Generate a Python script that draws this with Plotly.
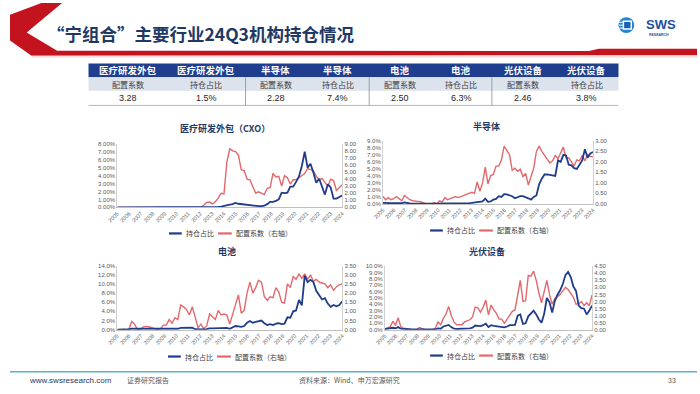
import plotly.graph_objects as go

W, H = 700, 394
def X(px): return px / W
def Y(py): return 1 - py / H

YEARS = [str(y) for y in range(2005, 2025)]
QUARTERS = [f"{y}Q{q}" for y in range(2005, 2025) for q in range(1, 5)][:79]

# ---- data, quarterly 2005Q1 .. 2024Q3 ----
CXO_HOLD = [0, 0, 0, 0,  0, 0, 0, 0,  0, 0, 0, 0,  0, 0, 0, 0,  0, 0, 0, 0,
            0, 0, 0, 0,  0, 0, 0, 0,  0, 0, 0, 0,  0, 0, 0, 0.05,
            0.1, 0.2, 0.3, 0.35,  0.4, 0.55, 0.45, 0.4,  0.4, 0.35, 0.3, 0.2,
            0.2, 0.15, 0.15, 0.2,  0.4, 0.7, 0.7, 0.8,  1.0, 1.85, 1.8, 1.85,
            2.6, 2.6, 3.2, 3.9,  5.2, 7.0, 5.0, 5.5,  4.4, 3.1, 3.6, 2.6,
            1.6, 2.9, 2.5, 1.1,  1.1, 1.3, 1.5]
CXO_COEF = [0, 0, 0, 0,  0, 0, 0, 0,  0, 0, 0, 0,  0, 0, 0, 0,  0, 0, 0, 0,
            0, 0, 0, 0,  0, 0, 0, 0,  0, 0, 0.3, 0.7,  0.75, 0.5, 0.8, 1.3,
            2.0, 1.9, 6.4, 8.3,  8.0, 7.9, 7.4, 5.3,  5.2, 4.0, 3.9, 2.8,
            2.0, 2.2, 2.0, 1.8,  2.7, 2.8, 4.8, 4.3,  4.4, 3.0, 4.5, 4.2,
            3.3, 3.9, 3.9, 4.2,  4.6, 4.8, 5.5, 5.3,  5.2, 4.4, 3.9, 4.1,
            3.6, 3.0, 4.0, 3.8,  2.4, 2.8, 3.2]

SEMI_HOLD = [0.15, 0.1, 0.1, 0.1,  0.12, 0.1, 0.12, 0.1,  0.2, 0.1, 0.08, 0.05,
             0.03, 0.02, 0.02, 0.02,  0.02, 0.02, 0.02, 0.02,  0.02, 0.03, 0.05, 0.05,
             0.05, 0.05, 0.05, 0.06,  0.06, 0.07, 0.08, 0.1,  0.12, 0.15, 0.2, 0.35,
             0.35, 0.35, 0.75, 0.3,  0.35, 0.6, 0.7, 1.1,  1.0, 1.4, 1.35, 1.2,
             1.1, 0.8, 1.0, 1.1,  1.1, 1.0, 0.8, 0.6,  1.0, 1.2, 2.8, 3.6,
             4.2, 4.2, 4.1, 4.0,  4.0, 6.2, 6.0, 7.0,  6.9, 5.6, 5.5, 5.1,
             5.0, 5.6, 6.2, 7.8,  6.6, 7.2, 7.4]
SEMI_COEF = [0.35, 0.2, 0.3, 0.2,  0.25, 0.35, 0.25, 0.15,  0.4, 0.3, 0.2, 0.15,
             0.12, 0.12, 0.1, 0.05,  0.0, 0.0, 0.0, 0.05,  0.0, 0.15, 0.1, 0.3,
             0.2, 0.25, 0.3, 0.35,  0.3, 0.35, 0.4, 0.45,  0.5, 0.55, 0.5, 1.05,
             0.6, 1.0, 1.75, 0.95,  1.35, 1.4, 1.8, 1.8,  2.1, 2.75, 2.55, 2.35,
             1.6, 1.7, 1.55, 1.65,  1.3, 1.45, 0.9, 1.35,  1.7, 2.5, 2.75, 2.5,
             2.3, 2.1, 1.95, 2.05,  2.3, 2.15, 2.4, 2.7,  2.2, 2.2, 2.0, 1.8,
             2.1, 2.05, 2.3, 2.05,  2.35, 2.25, 2.25]

BAT_HOLD = [0, 0, 0, 0,  0.1, 0.2, 0.2, 0.15,  0.05, 0.05, 0.05, 0.05,
            0.05, 0.05, 0.05, 0.05,  0.1, 0.1, 0.1, 0.1,  0.15, 0.2, 0.4, 0.4,
            0.4, 0.35, 0.45, 0.1,  0.05, 0.05, 0.05, 0.1,  0.3, 0.3, 0.3, 0.35,
            0.35, 0.35, 0.4, 0.2,  0.5, 0.8, 0.7, 0.6,  0.8, 1.5, 1.9, 1.5,
            1.7, 1.8, 2.0, 1.4,  1.0, 1.2, 1.0, 1.3,  1.4, 1.2, 1.3, 2.7,
            2.6, 4.0, 4.2, 6.5,  5.3, 11.8, 10.4, 10.9,  10.4, 8.5, 7.6, 6.6,
            6.9, 5.7, 5.0, 5.4,  5.1, 5.4, 6.2]
BAT_COEF = [0, 0, 0, 0,  0.0, 0.45, 0.3, 0.0,  0.0, 0.15, 0.18, 0.16,
            0.12, 0.05, 0.0, 0.05,  0.25, 0.25, 0.55, 0.35,  0.65, 0.55, 1.35, 1.25,
            1.1, 0.8, 1.25, 0.7,  0.1, 0.3, 0.05, 0.2,  0.85, 0.7, 0.55, 1.05,
            0.8, 0.85, 0.8, 0.3,  0.8, 1.35, 1.9, 0.9,  1.05, 2.0, 2.6, 2.0,
            2.3, 2.7, 2.6, 1.8,  1.6, 1.8, 1.75, 2.3,  2.05, 1.5, 1.45, 2.5,
            2.3, 2.9, 2.75, 3.05,  2.8, 3.05, 2.75, 3.0,  2.65, 2.75, 2.6, 2.55,
            2.5, 2.3, 2.45, 2.15,  2.35, 2.45, 2.5]

PV_HOLD = [0.1, 0.15, 0.2, 0.3,  0.2, 0.4, 0.15, 0.1,  0.05, 0.03, 0.02, 0.02,
           0.02, 0.02, 0.02, 0.02,  0.02, 0.02, 0.03, 0.05,  0.2, 0.15, 0.5, 0.6,
           0.75, 0.4, 0.15, 0.1,  0.1, 0.12, 0.15, 0.15,  0.2, 0.3, 0.65, 0.6,
           0.55, 0.7, 0.95, 0.4,  0.7, 0.6, 0.55, 0.45,  0.35, 0.35, 0.5, 0.7,
           0.7, 0.75, 2.2, 2.4,  0.9, 1.0, 2.1, 2.6,  3.0, 2.4, 1.6, 1.1,
           2.5, 5.0, 4.3, 2.7,  4.5, 5.5, 6.2, 7.2,  8.6, 9.1, 8.3, 6.8,
           6.1, 3.8, 3.4, 3.3,  2.4, 3.0, 3.8]
PV_COEF = [0.05, 0.1, 0.2, 0.6,  0.3, 0.85, 0.2, 0.1,  0.1, 0.05, 0.0, 0.0,
           0.0, 0.15, 0.05, 0.0,  0.0, 0.0, 0.0, 0.1,  0.55, 0.35, 0.8, 1.1,
           1.65, 1.0, 0.55, 0.35,  0.35, 0.35, 0.55, 0.65,  0.7, 0.9, 1.6, 1.55,
           1.25, 1.6, 2.1, 1.05,  1.75, 1.4, 1.15, 0.75,  0.75, 0.45, 0.75, 1.05,
           1.3, 1.4, 2.6, 3.5,  2.0, 2.05, 3.85, 3.8,  4.15, 3.5, 2.6, 1.9,
           2.7, 3.5, 2.5, 1.8,  2.2, 2.35, 2.5, 2.75,  3.0, 2.85, 2.6, 2.3,
           1.8, 1.85, 2.0, 1.7,  1.9, 1.7, 2.45]

TABLE_HEAD = ["医疗研发外包", "医疗研发外包", "半导体", "半导体", "电池", "电池", "光伏设备", "光伏设备"]
TABLE_SUB = ["配置系数", "持仓占比"] * 4
TABLE_VAL = ["3.28", "1.5%", "2.28", "7.4%", "2.50", "6.3%", "2.46", "3.8%"]

TITLE = "“宁组合”主要行业24Q3机构持仓情况"
LEG_HOLD = "持仓占比"
LEG_COEF = "配置系数（右轴）"

BLUE = "#1f3c8c"
RED = "#e3686d"
NAVY = "#1f3864"
CJK = "Noto Sans CJK SC"
LAT = "Liberation Sans, Noto Sans CJK SC"
GRAY = "#595959"

CHARTS = [
    dict(title="医疗研发外包（CXO）", hold=CXO_HOLD, coef=CXO_COEF, box=(109.3, 338.5, 143, 207.5),
         lmax=8, ldt=1, lfmt=".2f", rmax=9, rdt=1, tpos=(219, 127), leg=(221, 234)),
    dict(title="半导体", hold=SEMI_HOLD, coef=SEMI_COEF, box=(380, 594, 140, 204),
         lmax=9, ldt=1, lfmt=".1f", rmax=3, rdt=0.5, tpos=(486, 125), leg=(487, 231)),
    dict(title="电池", hold=BAT_HOLD, coef=BAT_COEF, box=(109.3, 338.5, 266.7, 331.7),
         lmax=14, ldt=2, lfmt=".1f", rmax=3.5, rdt=0.5, tpos=(221, 252), leg=(220, 359)),
    dict(title="光伏设备", hold=PV_HOLD, coef=PV_COEF, box=(382, 593, 267.3, 331.7),
         lmax=10, ldt=1, lfmt=".1f", rmax=4.5, rdt=0.5, tpos=(486, 252), leg=(487, 358)),
]

def key(prefix, k):
    return prefix if k == 1 else f"{prefix}{k}"

fig = go.Figure()
xi = list(range(len(QUARTERS)))
n = len(QUARTERS) - 1
tickpos = [k * n / (len(YEARS) - 1) for k in range(len(YEARS))]

layout = {}
shapes = []
annots = []

for i, c in enumerate(CHARTS):
    xk, yb, yo = i + 1, 2 * i + 1, 2 * i + 2
    xr, ybr, yor = key("x", xk), key("y", yb), key("y", yo)
    fig.add_trace(go.Scatter(x=xi, y=c["coef"], xaxis=xr, yaxis=ybr, mode="lines",
                             line=dict(color=RED, width=1.4), hoverinfo="skip"))
    fig.add_trace(go.Scatter(x=xi, y=c["hold"], xaxis=xr, yaxis=yor, mode="lines",
                             line=dict(color=BLUE, width=1.8), hoverinfo="skip"))
    x0, x1, y0, y1 = c["box"]
    layout[key("xaxis", xk)] = dict(
        domain=[X(x0), X(x1)], anchor=ybr, range=[0, n], tickmode="array",
        tickvals=tickpos, ticktext=YEARS, tickangle=-45, showgrid=False, zeroline=False,
        showline=True, linecolor="#bfbfbf", linewidth=1, ticks="",
        tickfont=dict(family=LAT, size=5.5, color=GRAY), fixedrange=True)
    layout[key("yaxis", yb)] = dict(
        domain=[Y(y1), Y(y0)], anchor=xr, side="right", range=[0, c["rmax"]],
        tick0=0, dtick=c["rdt"], tickformat=".2f", showgrid=False, zeroline=False,
        showline=True, linecolor="#d0d0d0", linewidth=1, ticks="",
        tickfont=dict(family=LAT, size=6, color=GRAY), fixedrange=True)
    layout[key("yaxis", yo)] = dict(
        overlaying=ybr, anchor=xr, side="left", range=[0, c["lmax"]],
        tick0=0, dtick=c["ldt"], tickformat=c["lfmt"], ticksuffix="%", showgrid=False,
        zeroline=False, showline=True, linecolor="#d0d0d0", linewidth=1, ticks="",
        tickfont=dict(family=LAT, size=6, color=GRAY), fixedrange=True)
    tx, ty = c["tpos"]
    annots.append(dict(x=X(tx), y=Y(ty), xref="paper", yref="paper", text=f"<b>{c['title']}</b>",
                       showarrow=False, xanchor="center", yanchor="middle",
                       font=dict(family=CJK, size=9, color=NAVY)))
    lc, ly = c["leg"]
    shapes.append(dict(type="line", xref="paper", yref="paper", x0=X(lc - 59), x1=X(lc - 46),
                       y0=Y(ly), y1=Y(ly), line=dict(color=BLUE, width=2.2)))
    shapes.append(dict(type="line", xref="paper", yref="paper", x0=X(lc - 9), x1=X(lc + 5),
                       y0=Y(ly), y1=Y(ly), line=dict(color=RED, width=2.2)))
    annots.append(dict(x=X(lc - 44), y=Y(ly), xref="paper", yref="paper", text=LEG_HOLD,
                       showarrow=False, xanchor="left", yanchor="middle",
                       font=dict(family=CJK, size=7, color="#404040")))
    annots.append(dict(x=X(lc + 7), y=Y(ly), xref="paper", yref="paper", text=LEG_COEF,
                       showarrow=False, xanchor="left", yanchor="middle",
                       font=dict(family=CJK, size=7, color="#404040")))

# ---- header decorations ----
def path(pts):
    return "M " + " L ".join(f"{X(px):.5f},{Y(py):.5f}" for px, py in pts) + " Z"

shapes.append(dict(type="path", xref="paper", yref="paper",
                   path=path([(32, 0), (53, 0), (17, 30), (48, 48.5), (590, 48.8), (600, 46.5),
                              (700, 46.5), (700, 53), (22, 53.5), (0, 38), (0, 12)]),
                   fillcolor="#c3131f", line=dict(width=0)))
shapes.append(dict(type="rect", xref="paper", yref="paper", x0=X(22), x1=X(700), y0=Y(55.5), y1=Y(53.3),
                   fillcolor="#f0c8c8", line=dict(width=0), opacity=0.6))
annots.append(dict(x=X(36), y=Y(31), xref="paper", yref="paper", text=TITLE, showarrow=False,
                   xanchor="left", yanchor="middle",
                   font=dict(family=CJK, size=17.5, color=NAVY, weight=600)))

# logo
shapes.append(dict(type="circle", xref="paper", yref="paper", x0=X(620), x1=X(636), y0=Y(30.5), y1=Y(14.5),
                   fillcolor="#2186d4", line=dict(width=0)))
shapes.append(dict(type="rect", xref="paper", yref="paper", x0=X(625), x1=X(633), y0=Y(26.5), y1=Y(18.5),
                   fillcolor="#1a5fb0", line=dict(color="white", width=1.5)))
for yy in (19.5, 22.5, 25.5):
    shapes.append(dict(type="line", xref="paper", yref="paper", x0=X(620.5), x1=X(624.5), y0=Y(yy), y1=Y(yy),
                       line=dict(color="white", width=1)))
annots.append(dict(x=X(646), y=Y(22), xref="paper", yref="paper", text="<b>SWS</b>", showarrow=False,
                   xanchor="left", yanchor="middle", font=dict(family="Liberation Sans", size=13, color="#1f4e9c")))
annots.append(dict(x=X(649), y=Y(33), xref="paper", yref="paper", text="<b>RESEARCH</b>", showarrow=False,
                   xanchor="left", yanchor="middle", font=dict(family="Liberation Sans", size=3.5, color="#1f4e9c")))

# ---- table ----
bounds = [80, 160, 240, 302, 366, 429, 491, 555, 620]
shapes.append(dict(type="rect", xref="paper", yref="paper", x0=X(80), x1=X(620), y0=Y(75.5), y1=Y(61.5),
                   fillcolor="#203e8e", line=dict(width=0)))
shapes.append(dict(type="rect", xref="paper", yref="paper", x0=X(80), x1=X(620), y0=Y(89), y1=Y(75.5),
                   fillcolor="#dde3ed", line=dict(width=0)))
shapes.append(dict(type="line", xref="paper", yref="paper", x0=X(80), x1=X(620), y0=Y(104), y1=Y(104),
                   line=dict(color="#a6a6a6", width=0.8)))
for bx in (240, 366, 491):
    shapes.append(dict(type="line", xref="paper", yref="paper", x0=X(bx), x1=X(bx), y0=Y(104), y1=Y(75.5),
                       line=dict(color="#8c8c8c", width=0.8)))
for j in range(8):
    cx = (bounds[j] + bounds[j + 1]) / 2
    annots.append(dict(x=X(cx), y=Y(68.5), xref="paper", yref="paper", text=f"<b>{TABLE_HEAD[j]}</b>",
                       showarrow=False, xanchor="center", yanchor="middle",
                       font=dict(family=CJK, size=9.5, color="white")))
    annots.append(dict(x=X(cx), y=Y(82.3), xref="paper", yref="paper", text=TABLE_SUB[j],
                       showarrow=False, xanchor="center", yanchor="middle",
                       font=dict(family=CJK, size=8, color="#404040")))
    annots.append(dict(x=X(cx), y=Y(96.5), xref="paper", yref="paper", text=TABLE_VAL[j],
                       showarrow=False, xanchor="center", yanchor="middle",
                       font=dict(family=LAT, size=9, color="#262626")))

# ---- footer ----
shapes.append(dict(type="line", xref="paper", yref="paper", x0=0, x1=1, y0=Y(374.5), y1=Y(374.5),
                   line=dict(color="#5bb2c9", width=1.5)))
annots.append(dict(x=X(17), y=Y(383), xref="paper", yref="paper", text="www.swsresearch.com", showarrow=False,
                   xanchor="left", yanchor="middle", font=dict(family="Liberation Sans", size=8, color=NAVY)))
annots.append(dict(x=X(117), y=Y(383), xref="paper", yref="paper", text="证券研究报告", showarrow=False,
                   xanchor="left", yanchor="middle", font=dict(family=CJK, size=7, color=GRAY)))
annots.append(dict(x=X(292), y=Y(383), xref="paper", yref="paper", text="资料来源：Wind、申万宏源研究",
                   showarrow=False, xanchor="left", yanchor="middle", font=dict(family=CJK, size=7, color=GRAY)))
annots.append(dict(x=X(681), y=Y(383), xref="paper", yref="paper", text="33", showarrow=False,
                   xanchor="right", yanchor="middle", font=dict(family="Liberation Sans", size=7, color=GRAY)))

fig.update_layout(width=W, height=H, autosize=False, margin=dict(l=0, r=0, t=0, b=0, pad=0),
                  paper_bgcolor="white", plot_bgcolor="white", showlegend=False,
                  shapes=shapes, annotations=annots, **layout)
fig.write_html("out.html", config={"displayModeBar": False},
               post_script="document.body.style.margin='0';document.body.style.overflow='hidden';")
